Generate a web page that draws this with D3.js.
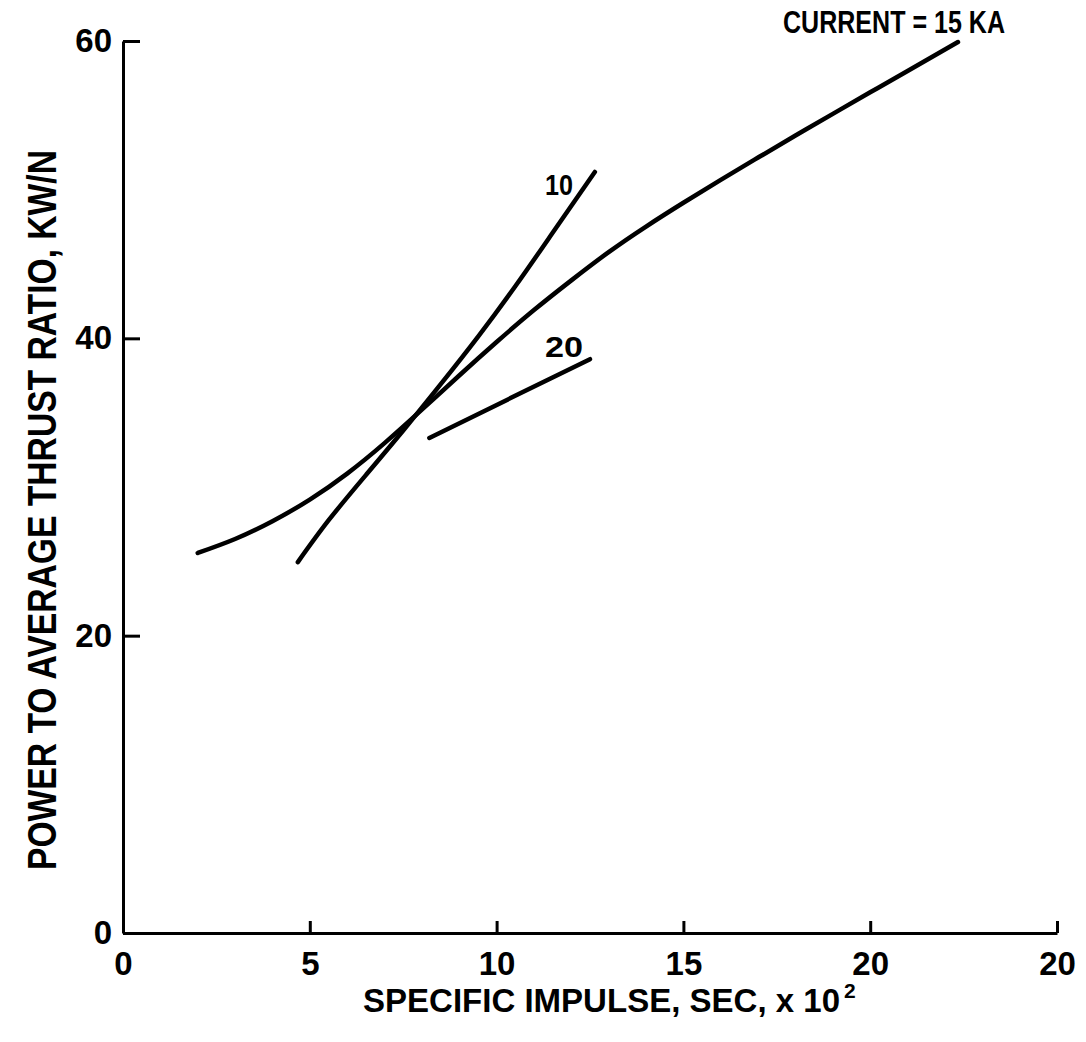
<!DOCTYPE html>
<html><head><meta charset="utf-8">
<script src="https://cdn.jsdelivr.net/npm/d3@7"></script>
<style>body{margin:0;background:#fff}svg{display:block}text{font-family:"Liberation Sans",Arial,sans-serif;font-weight:bold;fill:#000}</style>
</head><body>
<script>
// Data (x: specific impulse, sec x 10^2 ; y: power to average thrust ratio, kW/N)
const xTicks = [0, 5, 10, 15, 20, 25];
const xTickLabels = ["0", "5", "10", "15", "20", "20"];
const yTicks = [0, 20, 40, 60];
const yTickLabels = ["0", "20", "40", "60"];
const curve15x = [2.0, 3.0, 4.0, 5.0, 6.0, 7.0, 8.0, 9.0, 10.0, 11.0, 12.0, 13.0, 14.0, 15.0, 16.0, 17.0, 18.0, 19.0, 20.0, 21.0, 22.35];
const curve15y = [25.56, 26.5, 27.7, 29.15, 30.9, 32.95, 35.2, 37.5, 39.75, 41.9, 43.9, 45.8, 47.52, 49.12, 50.66, 52.16, 53.64, 55.1, 56.55, 57.98, 59.93];
const curve10x = [4.68, 5.5, 6.5, 7.5, 8.5, 9.5, 10.5, 11.5, 12.63];
const curve10y = [24.95, 27.75, 30.8, 33.8, 36.9, 40.1, 43.5, 47.1, 51.19];
const curve20x = [8.2, 12.5];
const curve20y = [33.3, 38.6];
const curveLabels = ["CURRENT = 15 KA", "10", "20"];

const W = 1086, H = 1042;
const svg = d3.select("body").append("svg").attr("width", W).attr("height", H);
const x = d3.scaleLinear().domain([0, 25]).range([123, 1057]);
const y = d3.scaleLinear().domain([0, 60]).range([933, 41]);

// axes
const gx = svg.append("g").attr("transform", `translate(0,${y(0)})`)
  .call(d3.axisBottom(x).tickValues(xTicks).tickFormat((d, i) => xTickLabels[i]).tickSizeInner(-12).tickSizeOuter(0).tickPadding(19));
const gy = svg.append("g").attr("transform", `translate(${x(0)},0)`)
  .call(d3.axisLeft(y).tickValues(yTicks).tickFormat((d, i) => yTickLabels[i]).tickSizeInner(-17).tickSizeOuter(0).tickPadding(11));
[gx, gy].forEach(g => {
  g.select(".domain").attr("stroke", "#000").attr("stroke-width", 3);
  g.selectAll(".tick line").attr("stroke", "#000").attr("stroke-width", 3);
  g.selectAll(".tick text").style("font-size", "33px").attr("fill", "#000");
});
gx.selectAll(".tick text").attr("dy", "0.71em");

// curves
const line = d3.line().x(d => x(d[0])).y(d => y(d[1])).curve(d3.curveNatural);
const series = [
  d3.zip(curve15x, curve15y),
  d3.zip(curve10x, curve10y),
  d3.zip(curve20x, curve20y)
];
svg.selectAll("path.curve").data(series).join("path").attr("class", "curve")
  .attr("d", line).attr("fill", "none").attr("stroke", "#000")
  .attr("stroke-width", 4.5).attr("stroke-linecap", "round");

// curve labels
svg.append("text").attr("x", 783).attr("y", 33).style("font-size", "31px")
  .attr("textLength", 222).attr("lengthAdjust", "spacingAndGlyphs").text(curveLabels[0]);
svg.append("text").attr("x", 545).attr("y", 195).style("font-size", "30px")
  .attr("textLength", 28).attr("lengthAdjust", "spacingAndGlyphs").text(curveLabels[1]);
svg.append("text").attr("x", 545).attr("y", 357).style("font-size", "30px")
  .attr("textLength", 38).attr("lengthAdjust", "spacingAndGlyphs").text(curveLabels[2]);

// axis titles
svg.append("text").attr("transform", "translate(56,510) rotate(-90)").attr("text-anchor", "middle")
  .style("font-size", "40px").attr("textLength", 720).attr("lengthAdjust", "spacingAndGlyphs")
  .text("POWER TO AVERAGE THRUST RATIO, KW/N");
svg.append("text").attr("x", 363).attr("y", 1012).style("font-size", "33px")
  .attr("textLength", 477).attr("lengthAdjust", "spacingAndGlyphs")
  .text("SPECIFIC IMPULSE, SEC, x 10");
svg.append("text").attr("x", 844).attr("y", 998).style("font-size", "21px").text("2");
</script>
</body></html>
